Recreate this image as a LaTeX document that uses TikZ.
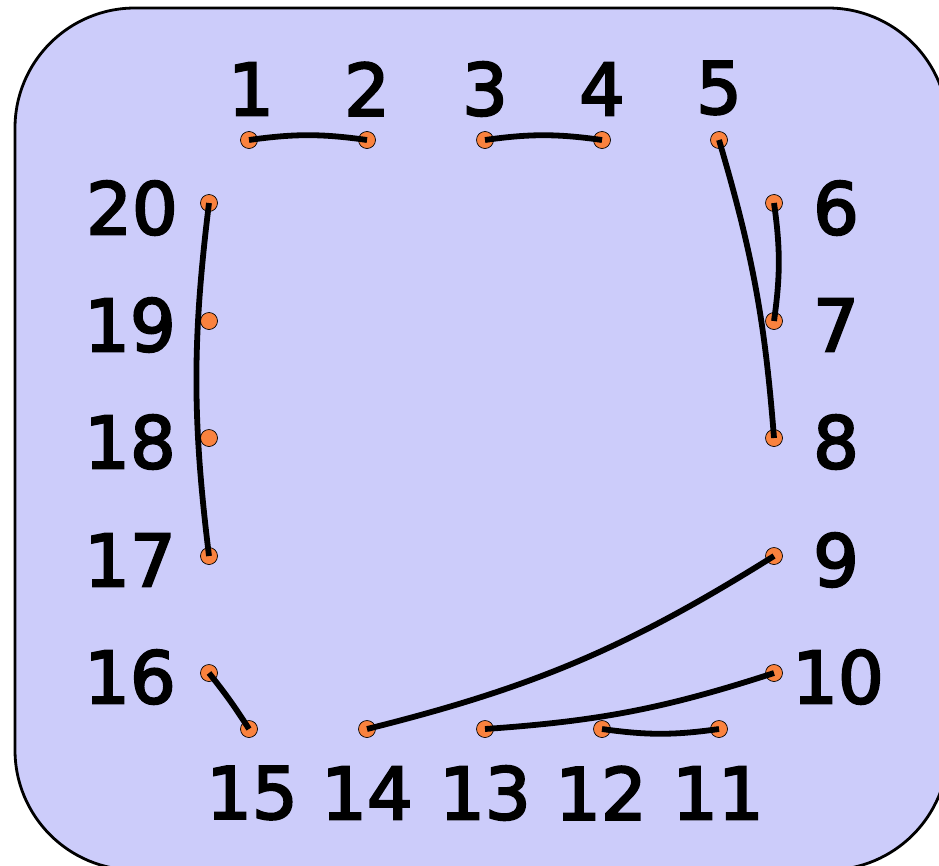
\documentclass[tikz,border=0pt]{standalone}
\usepackage{fontspec}
\setmainfont{DejaVu Sans}[FakeBold=3]
\definecolor{bgblue}{RGB}{204,204,250}
\definecolor{dotorange}{RGB}{250,130,62}
\tikzset{
  dot/.style={circle, fill=dotorange, draw=black, line width=0.7pt, minimum size=17pt, inner sep=0pt},
  lbl/.style={font=\fontsize{72}{80}\selectfont, inner sep=0pt, anchor=center},
  link/.style={line width=5.8pt, line cap=butt}
}
\begin{document}
\begin{tikzpicture}[x=1pt,y=-1pt]
\clip (0,0) rectangle (939,865);
\draw[fill=bgblue, line width=2.8pt, rounded corners=120pt] (15,8) rectangle (948,870);
% dots
\node[dot] (p1) at (249,140) {};
\node[dot] (p2) at (367,140) {};
\node[dot] (p3) at (485,140) {};
\node[dot] (p4) at (602,140) {};
\node[dot] (p5) at (719,140) {};
\node[dot] (p6) at (774,203) {};
\node[dot] (p7) at (774,321) {};
\node[dot] (p8) at (774,438) {};
\node[dot] (p9) at (774,556) {};
\node[dot] (p10) at (774,673) {};
\node[dot] (p11) at (719,729) {};
\node[dot] (p12) at (602,729) {};
\node[dot] (p13) at (485,729) {};
\node[dot] (p14) at (367,729) {};
\node[dot] (p15) at (249,729) {};
\node[dot] (p16) at (209,673) {};
\node[dot] (p17) at (209,556) {};
\node[dot] (p18) at (209,438) {};
\node[dot] (p19) at (209,321) {};
\node[dot] (p20) at (209,203) {};
% labels
\node[lbl] (l1) at (251,89) {1};
\node[lbl] (l2) at (367,89) {2};
\node[lbl] (l3) at (485,89) {3};
\node[lbl] (l4) at (602,89) {4};
\node[lbl] (l5) at (719,88) {5};
\node[lbl] (l6) at (836,208) {6};
\node[lbl] (l7) at (836,325) {7};
\node[lbl] (l8) at (836,442) {8};
\node[lbl] (l9) at (836,560) {9};
\node[lbl] (l10) at (838,677) {10};
\node[lbl] (l11) at (718,793) {11};
\node[lbl] (l12) at (601,793) {12};
\node[lbl] (l13) at (485,793) {13};
\node[lbl] (l14) at (367,793) {14};
\node[lbl] (l15) at (252,793) {15};
\node[lbl] (l16) at (130,677) {16};
\node[lbl] (l17) at (130,560) {17};
\node[lbl] (l18) at (130,442) {18};
\node[lbl] (l19) at (130,325) {19};
\node[lbl] (l20) at (132,208) {20};
% connectors
\draw[link] (p1.center) to[bend left=8] (p2.center);
\draw[link] (p3.center) to[bend left=8] (p4.center);
\draw[link] (p5.center) to[bend left=6] (p8.center);
\draw[link] (p6.center) to[bend left=8] (p7.center);
\draw[link] (p14.center) to[bend right=9] (p9.center);
\draw[link] (p13.center) to[bend right=7] (p10.center);
\draw[link] (p12.center) to[bend right=8] (p11.center);
\draw[link] (p16.center) to[bend left=3] (p15.center);
\draw[link] (p20.center) to[bend right=7] (p17.center);
\end{tikzpicture}
\end{document}
